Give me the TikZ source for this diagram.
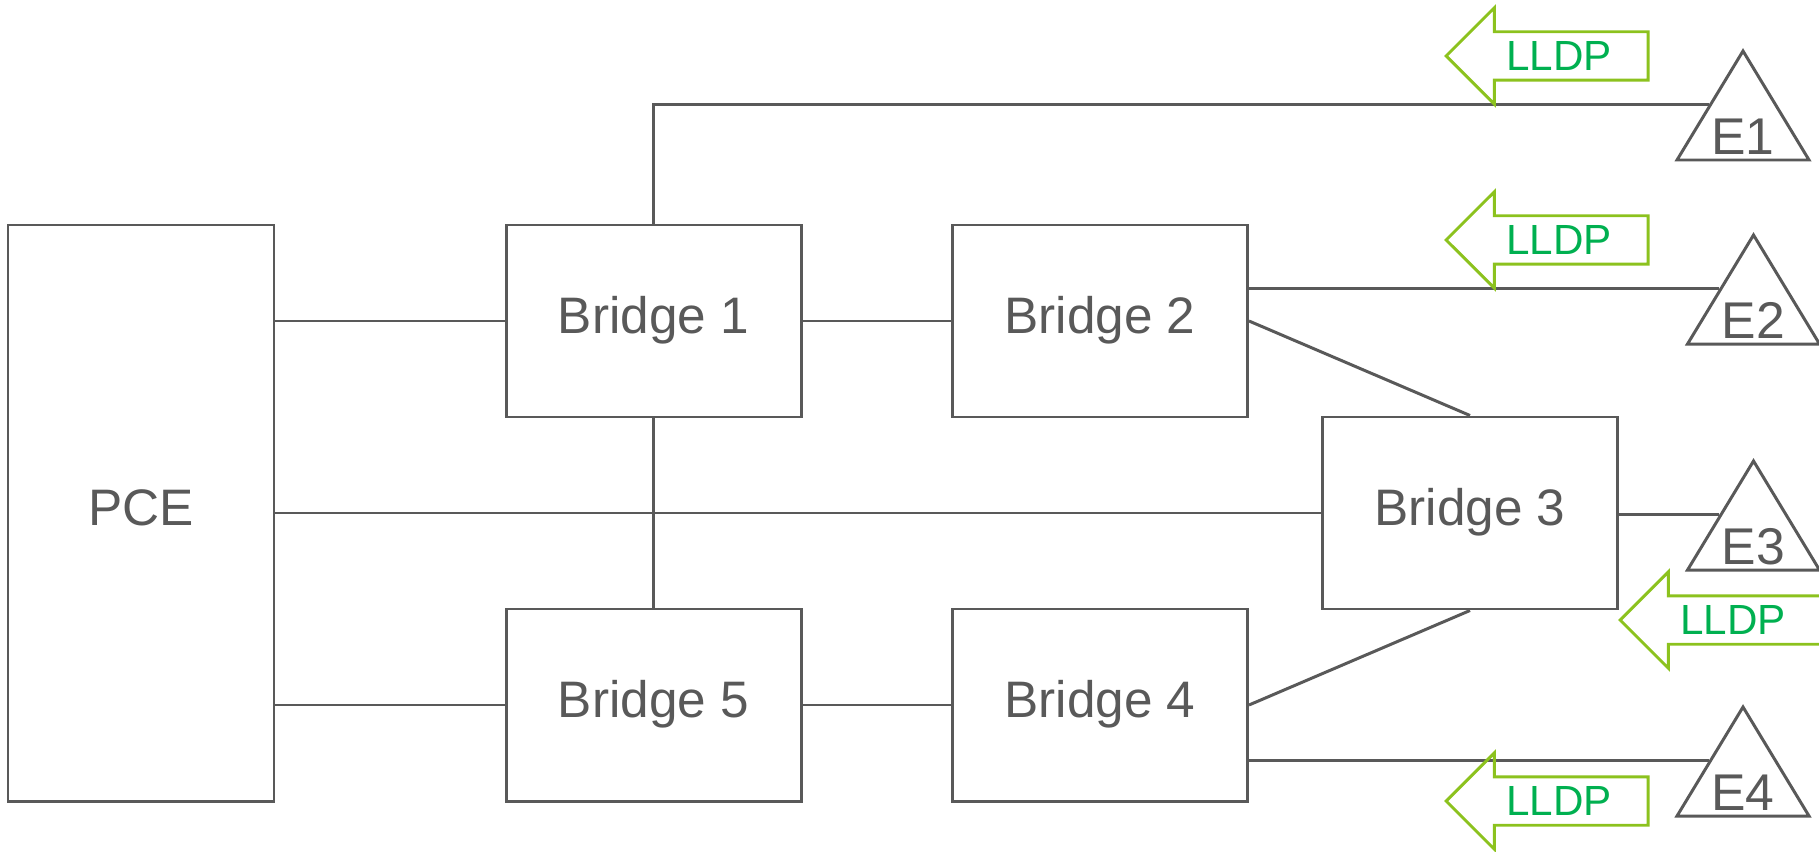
\documentclass[tikz,border=0pt]{standalone}
\usepackage{fontspec}
\setmainfont{Liberation Sans}
\usetikzlibrary{shapes.geometric,shapes.arrows}
\definecolor{linegray}{RGB}{89,89,89}
\definecolor{lldpgreen}{RGB}{0,176,80}
\definecolor{arrowgreen}{RGB}{140,194,30}

\begin{document}
\begin{tikzpicture}[
    box/.style={shape=rectangle,draw=linegray,line width=0.85pt,text=linegray,
        font=\fontsize{14.6}{18}\selectfont,text height=0.716em,text depth=0pt,
        minimum width=2.95cm,minimum height=1.92cm,inner sep=0pt},
    elabel/.style={anchor=base,yshift=0.07cm,inner sep=0pt,text=linegray,font=\fontsize{14.7}{18}\selectfont},
    endpt/.style={shape=isosceles triangle,shape border rotate=90,isosceles triangle stretches,
        draw=linegray,line width=0.85pt,minimum width=1.32cm,minimum height=1.09cm,inner sep=0pt,
        anchor=lower side,label={[elabel]south:#1}},
    lldp/.style={shape=single arrow,shape border rotate=180,draw=arrowgreen,line width=0.85pt,
        text=lldpgreen,font=\fontsize{12}{14}\selectfont,text height=0.37cm,text depth=0.085cm,
        minimum height=2.02cm,single arrow head extend=0.24cm,inner sep=0pt,anchor=tip},
    link/.style={draw=linegray,line width=0.85pt}
]
\useasboundingbox (0,0) rectangle (18.19,8.51);

        \node[box,minimum width=2.66cm,minimum height=5.76cm] (pce) at (1.41,3.38) {PCE};
        \node[box] (b1) at (6.535,5.30) {Bridge 1};
        \node[box] (b2) at (11.00,5.30) {Bridge 2};
        \node[box] (b3) at (14.70,3.38) {Bridge 3};
        \node[box] (b4) at (11.00,1.46) {Bridge 4};
        \node[box] (b5) at (6.535,1.46) {Bridge 5};

        \node[endpt=E1] (e1) at (17.43,6.895) {};
        \node[endpt=E2] (e2) at (17.535,5.055) {};
        \node[endpt=E3] (e3) at (17.535,2.795) {};
        \node[endpt=E4] (e4) at (17.43,0.335) {};

        \path (pce.east |- b1.west) edge[link] (b1.west);
        \path (pce.east) edge[link] (b3.west);
        \path (pce.east |- b5.west) edge[link] (b5.west);
        \path (b1) edge[link] (b2);
        \path (b5) edge[link] (b4);
        \path (b1) edge[link] (b5);
        \path (b2.east) edge[link] (b3.north);
        \path (b3.south) edge[link] (b4.east);
        \path (b3.east |- e3.left side) edge[link] (e3.left side);
        \path (b2.east |- e2.left side) edge[link] (e2.left side);
        \path (b4.east |- e4.left side) edge[link] (e4.left side);
        \draw[link] (b1.north) |- (e1.left side);

        \node[lldp] (l1) at (14.44,7.95) {LLDP};
        \node[lldp] (l2) at (14.44,6.11) {LLDP};
        \node[lldp] (l3) at (16.18,2.31) {LLDP};
        \node[lldp] (l4) at (14.44,0.50) {LLDP};

\end{tikzpicture}
\end{document}
